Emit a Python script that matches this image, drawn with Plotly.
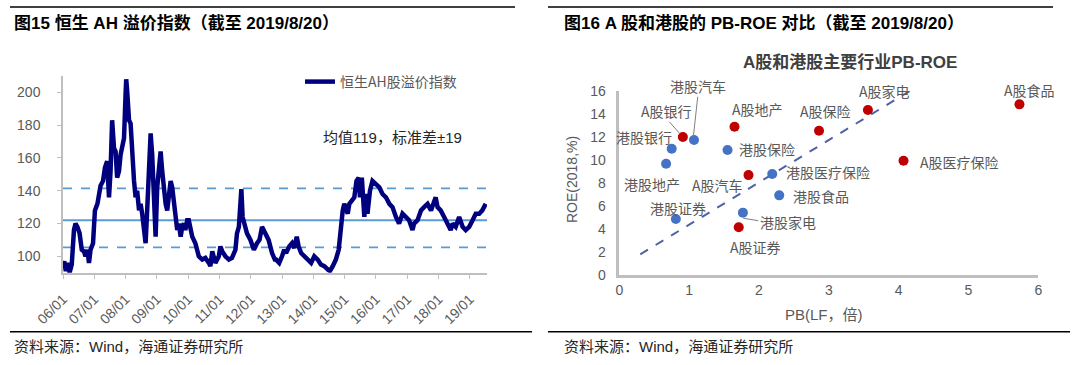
import plotly.graph_objects as go

# ---------------- data: left chart (Hang Seng AH premium index) ----------------
ah_years = [
    2006.00, 2006.04, 2006.09, 2006.15, 2006.21, 2006.28, 2006.35, 2006.40, 2006.46, 2006.53,
    2006.60, 2006.67, 2006.72, 2006.78, 2006.83, 2006.88, 2006.96, 2007.02, 2007.10, 2007.15,
    2007.20, 2007.28, 2007.34, 2007.41, 2007.47, 2007.52, 2007.57, 2007.63, 2007.68, 2007.73,
    2007.79, 2007.84, 2007.89, 2007.95, 2008.00, 2008.02, 2008.05, 2008.11, 2008.16, 2008.21,
    2008.27, 2008.32, 2008.37, 2008.43, 2008.48, 2008.53, 2008.59, 2008.64, 2008.69, 2008.74,
    2008.80, 2008.85, 2008.90, 2008.96, 2009.01, 2009.06, 2009.12, 2009.17, 2009.22, 2009.28,
    2009.33, 2009.38, 2009.44, 2009.49, 2009.54, 2009.60, 2009.65, 2009.70, 2009.76, 2009.81,
    2009.86, 2009.91, 2009.97, 2010.02, 2010.07, 2010.13, 2010.23, 2010.34, 2010.45, 2010.55,
    2010.66, 2010.71, 2010.77, 2010.82, 2010.87, 2010.98, 2011.03, 2011.09, 2011.19, 2011.30,
    2011.40, 2011.51, 2011.56, 2011.62, 2011.67, 2011.70, 2011.74, 2011.81, 2011.88, 2011.99,
    2012.10, 2012.20, 2012.28, 2012.36, 2012.47, 2012.57, 2012.68, 2012.77, 2012.81, 2012.91,
    2013.00, 2013.07, 2013.13, 2013.23, 2013.32, 2013.39, 2013.47, 2013.53, 2013.61, 2013.71,
    2013.82, 2013.93, 2014.03, 2014.14, 2014.24, 2014.35, 2014.46, 2014.53, 2014.62, 2014.72,
    2014.81, 2014.88, 2014.94, 2014.99, 2015.04, 2015.10, 2015.15, 2015.23, 2015.31, 2015.38,
    2015.45, 2015.49, 2015.55, 2015.63, 2015.68, 2015.73, 2015.81, 2015.89, 2016.00, 2016.11,
    2016.21, 2016.32, 2016.43, 2016.53, 2016.64, 2016.74, 2016.85, 2016.96, 2017.06, 2017.17,
    2017.22, 2017.33, 2017.44, 2017.54, 2017.65, 2017.76, 2017.86, 2017.91, 2017.97, 2018.07,
    2018.18, 2018.29, 2018.39, 2018.45, 2018.55, 2018.66, 2018.77, 2018.87, 2018.98, 2019.09,
    2019.19, 2019.30, 2019.40, 2019.51,
]
ah_values = [
    93, 97, 91, 96, 90, 95, 116, 120, 118, 114,
    104, 103, 100, 104, 96, 104, 108, 128, 132, 140,
    143, 146, 154, 158, 136, 152, 183, 166, 164, 148,
    152, 162, 166, 172, 199, 208, 201, 183, 181, 162,
    146, 136, 140, 128, 132, 126, 118, 108, 128, 154,
    175, 162, 138, 112, 142, 154, 164, 152, 142, 132,
    128, 136, 146, 142, 132, 122, 116, 120, 112, 118,
    120, 116, 122, 122, 118, 112, 108, 100, 98, 99,
    96, 94, 103, 98, 96, 100, 106, 103, 100, 98,
    99, 104, 114, 118, 128, 141, 124, 120, 114, 110,
    104, 108, 110, 118, 114, 110, 102, 98, 98, 96,
    100, 104, 102, 106, 108, 105, 112, 106, 102, 100,
    98, 96, 100, 98, 95, 94, 92, 91, 94, 98,
    104, 120, 128, 132, 128, 126, 132, 134, 136, 146,
    148, 136, 148, 124, 138, 126, 140, 146, 144, 142,
    138, 136, 132, 130, 124, 120, 126, 124, 122, 116,
    120, 122, 128, 130, 132, 128, 134, 136, 130, 128,
    124, 120, 116, 120, 118, 124, 118, 116, 118, 122,
    126, 126, 128, 132,
]
ah_mean_line = 122.0
ah_upper_line = 141.5
ah_lower_line = 105.5
year_ticks = list(range(2006, 2020))
year_ticktext = ["06/01", "07/01", "08/01", "09/01", "10/01", "11/01", "12/01",
                 "13/01", "14/01", "15/01", "16/01", "17/01", "18/01", "19/01"]

# ---------------- data: right chart (PB-ROE) ----------------
a_names = ["A股银行", "A股地产", "A股汽车", "A股保险", "A股家电", "A股食品", "A股医疗保险", "A股证券"]
a_pb = [0.91, 1.65, 1.85, 2.86, 3.56, 5.73, 4.07, 1.71]
a_roe = [12.0, 12.9, 8.7, 12.55, 14.35, 14.84, 9.95, 4.17]

h_names = ["港股汽车", "港股银行", "港股地产", "港股保险", "港股医疗保险", "港股食品", "港股证券", "港股家电"]
h_pb = [1.07, 0.75, 0.67, 1.55, 2.19, 2.29, 0.81, 1.77]
h_roe = [11.74, 10.99, 9.69, 10.88, 8.79, 6.94, 4.89, 5.44]

trend_pb = [0.30, 4.35]
trend_roe = [1.82, 16.7]

# ---------------- styling / layout positions ----------------
FONT = "Liberation Sans, Arial, Noto Sans CJK SC, sans-serif"
CJK = "Noto Sans CJK SC, Liberation Sans, sans-serif"
GRAY = "#595959"
W, H = 1080, 365
Y2_MAX = 16
Y2_PX_PER_UNIT = 11.52


def px(x):
    return x / W


def py(y):
    return (H - y) / H


label_pos = {
    "港股汽车": (1.128, 16.46), "A股银行": (0.679, 14.26), "港股银行": (0.354, 12.03),
    "A股地产": (1.98, 14.41), "A股保险": (2.947, 14.26), "A股家电": (3.792, 16.02),
    "A股食品": (5.87, 16.08), "A股医疗保险": (4.867, 9.86), "港股保险": (2.112, 10.96),
    "港股医疗保险": (2.983, 8.95), "港股食品": (2.89, 6.88), "港股地产": (0.464, 7.93),
    "A股汽车": (1.407, 7.84), "港股证券": (0.841, 5.82), "港股家电": (2.417, 4.65),
    "A股证券": (1.951, 2.48),
}
leaders = [((1.123, 15.5), (1.06, 12.0)), ((0.716, 13.33), (0.87, 12.27)),
           ((1.776, 4.95), (1.99, 4.74))]

fig = go.Figure()

fig.add_trace(go.Scatter(
    x=ah_years, y=ah_values, mode="lines", name="恒生AH股溢价指数",
    line=dict(color="#00007F", width=4.5), xaxis="x", yaxis="y", showlegend=True,
))

fig.add_trace(go.Scatter(
    x=trend_pb, y=trend_roe, mode="lines", showlegend=False,
    line=dict(color="#4F62A6", width=2, dash="dash"), xaxis="x2", yaxis="y2",
))
fig.add_trace(go.Scatter(
    x=a_pb, y=a_roe, mode="markers", showlegend=False,
    marker=dict(color="#C00000", size=10), xaxis="x2", yaxis="y2",
))
fig.add_trace(go.Scatter(
    x=h_pb, y=h_roe, mode="markers", showlegend=False,
    marker=dict(color="#4472C4", size=10), xaxis="x2", yaxis="y2",
))

shapes = []
for yv, dash in [(ah_mean_line, "solid"), (ah_upper_line, "dash"), (ah_lower_line, "dash")]:
    shapes.append(dict(type="line", xref="x domain", x0=0, x1=1, yref="y", y0=yv, y1=yv,
                       line=dict(color="#5B9BD5", width=1.8, dash=dash), layer="below"))
for (x0, y0), (x1, y1) in leaders:
    shapes.append(dict(type="line", xref="x2", yref="y2", x0=x0, y0=y0, x1=x1, y1=y1,
                       line=dict(color="#7F7F7F", width=1)))
# rules
for x0, x1, yy in [(10, 515, 7), (548, 1053, 7), (10, 532, 331.7), (548, 1070, 331.7)]:
    shapes.append(dict(type="line", xref="paper", yref="paper", x0=px(x0), x1=px(x1),
                       y0=py(yy), y1=py(yy), line=dict(color="#000000", width=1.5)))


def note(x, y, text, size, color, family=FONT, xanchor="center", **kw):
    return dict(x=px(x), y=py(y), xref="paper", yref="paper", text=text, showarrow=False,
                xanchor=xanchor, yanchor="middle",
                font=dict(family=family, size=size, color=color), **kw)


annotations = []
for name, (lx, ly) in label_pos.items():
    # keep the anchor inside the axis range (plotly hides off-range anchors) and shift in px
    shift = max(0.0, ly - Y2_MAX) * Y2_PX_PER_UNIT
    annotations.append(dict(x=lx, y=min(ly, Y2_MAX), yshift=shift, xref="x2", yref="y2",
                            text=name, showarrow=False, xanchor="center", yanchor="middle",
                            font=dict(family=CJK, size=14, color=GRAY)))
annotations += [
    note(12, 24, "<b>图15 恒生 AH 溢价指数（截至 2019/8/20）</b>", 17, "#000000", xanchor="left"),
    note(562, 24, "<b>图16 A 股和港股的 PB-ROE 对比（截至 2019/8/20）</b>", 17, "#000000", xanchor="left"),
    note(12, 346, "资料来源：Wind，海通证券研究所", 15, "#262626", xanchor="left"),
    note(562, 346, "资料来源：Wind，海通证券研究所", 15, "#262626", xanchor="left"),
    note(392, 137, "均值119，标准差±19", 15, "#262626"),
    note(850, 63, "<b>A股和港股主要行业PB-ROE</b>", 17, "#404040"),
    note(572, 180, "ROE(2018,%)", 14, GRAY, textangle=-90),
    note(824, 314, "PB(LF，倍)", 15, GRAY),
]

fig.update_layout(
    width=W, height=H, margin=dict(l=0, r=0, t=0, b=0, autoexpand=False),
    paper_bgcolor="white", plot_bgcolor="white",
    font=dict(family=FONT, size=13, color=GRAY),
    xaxis=dict(domain=[px(63), px(487)], range=[2006, 2019.55], tickvals=year_ticks,
               ticktext=year_ticktext, tickangle=-45, showgrid=False, zeroline=False,
               showline=True, linecolor="#BFBFBF", linewidth=1.5, ticks="outside",
               ticklen=5, tickcolor="#BFBFBF", ticklabelstandoff=6, automargin=False,
               tickfont=dict(size=14, color=GRAY), anchor="y"),
    yaxis=dict(domain=[py(272.7), py(76)], range=[90, 210], dtick=20, showgrid=False,
               zeroline=False, showline=True, linecolor="#BFBFBF", linewidth=1.5,
               ticks="outside", ticklen=4, tickcolor="#BFBFBF", ticklabelstandoff=14,
               automargin=False, tickfont=dict(size=14, color=GRAY), anchor="x"),
    xaxis2=dict(domain=[px(619.3), px(1038.3)], range=[0, 6], dtick=1, showgrid=False,
                zeroline=False, showline=True, linecolor="#BFBFBF", linewidth=2.5,
                ticks="", ticklabelstandoff=0, automargin=False,
                tickfont=dict(size=14, color=GRAY), anchor="y2"),
    yaxis2=dict(domain=[py(275.3), py(91)], range=[0, Y2_MAX], dtick=2, showgrid=False,
                zeroline=False, showline=True, linecolor="#BFBFBF", linewidth=2.5,
                ticks="", ticklabelstandoff=8, automargin=False,
                tickfont=dict(size=14, color=GRAY), anchor="x2"),
    legend=dict(x=px(300), y=py(82), xanchor="left", yanchor="middle",
                bgcolor="rgba(0,0,0,0)", borderwidth=0,
                font=dict(family=CJK, size=14, color=GRAY)),
    shapes=shapes, annotations=annotations,
)

fig.write_html("out.html", config={"displayModeBar": False},
               post_script="document.body.style.margin='0px';")
